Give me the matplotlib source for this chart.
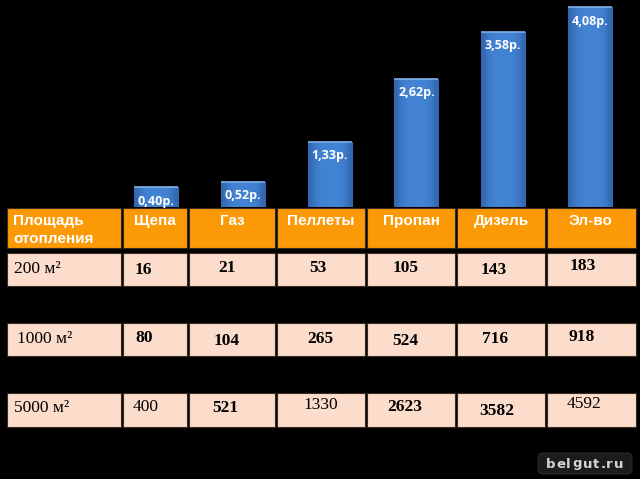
import matplotlib
matplotlib.use("Agg")
import matplotlib.pyplot as plt
import numpy as np
from matplotlib.patches import Rectangle, FancyBboxPatch

# ---- data ----
fuels = ["Щепа", "Газ", "Пеллеты", "Пропан", "Дизель", "Эл-во"]
price_per_kwh = [0.40, 0.52, 1.33, 2.62, 3.58, 4.08]
price_labels = ["0,40р.", "0,52р.", "1,33р.", "2,62р.", "3,58р.", "4,08р."]
header_first = "Площадь\nотопления"
areas = ["200 м²", "1000 м²", "5000 м²"]
costs_200 = [16, 21, 53, 105, 143, 183]
costs_1000 = [80, 104, 265, 524, 716, 918]
costs_5000 = [400, 521, 1330, 2623, 3582, 4592]
watermark = "belgut.ru"

W, H = 640, 479
fig = plt.figure(figsize=(W / 100, H / 100), dpi=100)
fig.patch.set_facecolor("black")

# ---- table (layout in pixel coords) ----
tab = fig.add_axes([0, 0, 1, 1])
tab.set_xlim(0, W)
tab.set_ylim(H, 0)
tab.axis("off")
tab.set_facecolor("black")

col_edges = [(7, 121), (123, 187), (189, 275), (277, 365), (367, 455), (457, 545), (547, 636)]
header_y = (208, 248)
row_ys = [(253, 286), (323, 356), (393, 427)]
orange = "#FB9A06"
pink = "#FCDDCB"
border = "#3b2b22"

for (x0, x1) in col_edges:
    tab.add_patch(Rectangle((x0, header_y[0]), x1 - x0, header_y[1] - header_y[0],
                            facecolor=orange, edgecolor=border, lw=0.8))
    for (y0, y1) in row_ys:
        tab.add_patch(Rectangle((x0, y0), x1 - x0, y1 - y0,
                                facecolor=pink, edgecolor=border, lw=0.8))

hfont = dict(family="Liberation Sans", weight="bold", color="white", fontsize=11)
tab.text(13, 230, header_first, ha="left", va="center", linespacing=1.3, **hfont)
head_x = [155, 232, 321, 411, 501, 591]
for f, x in zip(fuels, head_x):
    tab.text(x, 221, f, ha="center", va="center", **hfont)

area_pos = [(14, 269), (17, 339), (14, 408)]
for a, (x, y) in zip(areas, area_pos):
    tab.text(x, y, a, ha="left", va="center", family="Liberation Serif",
             fontsize=12.5, color="black")

num_pos = [
    [(143, 270), (227, 268), (318, 268), (406, 268), (494, 270), (583, 266)],
    [(144, 338), (227, 341), (320, 339), (405, 341), (495, 339), (582, 337)],
    [(146, 407), (225, 408), (321, 405), (405, 407), (497, 411), (584, 404)],
]
weights5000 = ["normal", "bold", "normal", "bold", "bold", "normal"]
for r, row in enumerate([costs_200, costs_1000, costs_5000]):
    for c, v in enumerate(row):
        x, y = num_pos[r][c]
        wgt = weights5000[c] if r == 2 else "bold"
        tab.text(x, y, str(v), ha="center", va="center", family="Liberation Serif",
                 fontsize=12.5, weight=wgt, color="black")

# watermark
tab.add_patch(FancyBboxPatch((538, 453), 94, 21, boxstyle="round,pad=0,rounding_size=5",
                             facecolor="#1c1c1c", edgecolor="#2a2a2a", lw=0.8))
wx = 546
adv = {"b": 10.2, "e": 10.0, "l": 6.2, "g": 10.2, "u": 10.2, "t": 7.4, ".": 6.0, "r": 8.0}
for ch in watermark:
    tab.text(wx, 464, ch, ha="left", va="center", family="DejaVu Sans",
             weight="bold", fontsize=9.5, color="#d4d4d4")
    wx += adv.get(ch, 9.0)

# ---- bars ----
step = 86.8
left_px = 156 - step / 2
bottom_px = 207
ymax = 4.2
px_per_unit = 49.0
bax = fig.add_axes([left_px / W, 1 - bottom_px / H, 6 * step / W, ymax * px_per_unit / H])
bax.set_xlim(-0.5, 5.5)
bax.set_ylim(0, ymax)
bax.axis("off")
bax.patch.set_alpha(0)

x = np.arange(len(fuels))
bars = bax.bar(x, price_per_kwh, width=0.507, color="#3F7ECE", edgecolor="#5A96DE", lw=0.8)
grad = np.array([[0.0, 0.7, 0.95, 1.0, 1.0, 1.0, 0.95, 0.7, 0.0]])
cmap = matplotlib.colors.LinearSegmentedColormap.from_list("b", ["#3366AE", "#4283D3"])
for b in bars:
    x0, w, h = b.get_x(), b.get_width(), b.get_height()
    im = bax.imshow(grad, extent=[x0, x0 + w, 0, h], cmap=cmap, aspect="auto",
                    interpolation="bicubic", zorder=2)
    im.set_clip_path(b)
    bax.plot([x0, x0 + w], [h, h], color="#7FB0EA", lw=1.2, zorder=3,
             solid_capstyle="butt")

for b, lab in zip(bars, price_labels):
    bax.annotate(lab, (b.get_x() + b.get_width() / 2, b.get_height()),
                 xytext=(0, -5.5), textcoords="offset points", ha="center", va="top",
                 family="Open Sans", weight="bold", fontsize=9, color="white", zorder=4)

fig.savefig("out.png", dpi=100, facecolor="black")
